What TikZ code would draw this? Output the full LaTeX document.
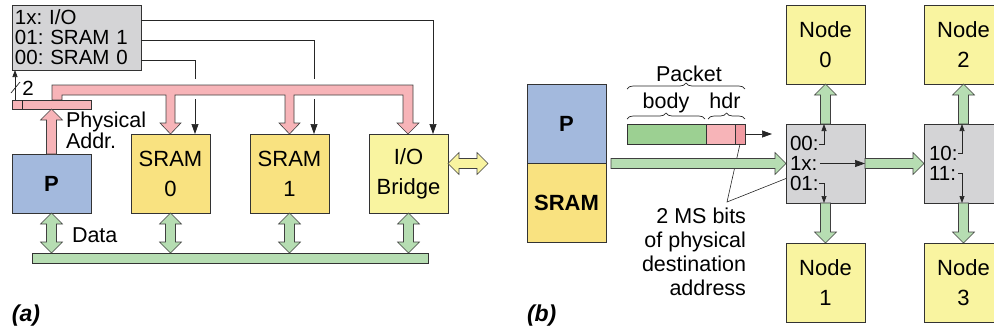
\documentclass[tikz,border=0pt]{standalone}
\usepackage{fontspec}
\setmainfont{Liberation Sans}
\usepackage{xcolor}
\usepackage{tikz}
\usetikzlibrary{arrows.meta,calc,decorations.pathreplacing}
\definecolor{cpublue}{RGB}{163,185,221}
\definecolor{memyellow}{RGB}{249,226,128}
\definecolor{devyellow}{RGB}{249,244,160}
\definecolor{routegray}{RGB}{212,212,214}
\definecolor{addrpink}{RGB}{247,180,184}
\definecolor{hdrpink}{RGB}{241,155,162}
\definecolor{datagreen}{RGB}{182,221,178}
\definecolor{bodygreen}{RGB}{156,208,146}
\newcommand{\mainsize}{\fontsize{22}{30}\selectfont}
\newcommand{\smallsize}{\fontsize{20.5}{20}\selectfont}
\newcommand{\notesize}{\fontsize{21.5}{24}\selectfont}
\newcommand{\fatarr}[3]{%
  \path (#2) coordinate (fa-s) (#3) coordinate (fa-e);
  \path ($(fa-e)!11pt!(fa-s)$) coordinate (fa-h);
  \draw[#1] ($(fa-s)!5pt!90:(fa-e)$) -- ($(fa-h)!5pt!90:(fa-e)$) -- ($(fa-h)!11pt!90:(fa-e)$) -- (fa-e)
    -- ($(fa-h)!11pt!-90:(fa-e)$) -- ($(fa-h)!5pt!-90:(fa-e)$) -- ($(fa-s)!5pt!-90:(fa-e)$) -- cycle;}
\newcommand{\fatbiarr}[3]{%
  \path (#2) coordinate (fa-s) (#3) coordinate (fa-e);
  \path ($(fa-e)!11pt!(fa-s)$) coordinate (fa-h) ($(fa-s)!11pt!(fa-e)$) coordinate (fa-g);
  \draw[#1] ($(fa-g)!5pt!90:(fa-e)$) -- ($(fa-h)!5pt!90:(fa-e)$) -- ($(fa-h)!11pt!90:(fa-e)$) -- (fa-e)
    -- ($(fa-h)!11pt!-90:(fa-e)$) -- ($(fa-h)!5pt!-90:(fa-e)$) -- ($(fa-g)!5pt!-90:(fa-e)$)
    -- ($(fa-g)!11pt!-90:(fa-e)$) -- (fa-s) -- ($(fa-g)!11pt!90:(fa-e)$) -- cycle;}

\begin{document}
\frenchspacing
\begin{tikzpicture}[>={Triangle[length=10pt,width=7pt]}, x=1pt, y=-1pt,
    box/.style={draw=black!80, line width=0.8pt, anchor=north west, minimum width=79pt, minimum height=79pt, inner sep=0pt, outer sep=0pt, align=center, font=\mainsize},
    cpu/.style={box, fill=cpublue},
    mem/.style={box, fill=memyellow},
    dev/.style={box, fill=devyellow},
    router/.style={box, fill=routegray},
    lbl/.style={inner sep=0pt, outer sep=0pt, font=\notesize},
    wire/.style={draw=black!85, line width=0.7pt},
    smalltip/.style={-{Triangle[length=7pt,width=5pt]}},
    pinkfat/.style={draw=black!75, line width=0.6pt, fill=addrpink},
    greenfat/.style={draw=black!75, line width=0.6pt, fill=datagreen},
    yellowfat/.style={draw=black!75, line width=0.6pt, fill=devyellow},
    brc/.style={draw=black!85, line width=0.7pt, decorate, decoration={brace, amplitude=6pt}}]
    \useasboundingbox (0,0) rectangle (994,333);
    \clip (0,0) rectangle (994,333);

    \node[box, fill=routegray, minimum width=129pt, minimum height=65pt, text width=123pt, align=left, font=\smallsize] (dec) at (12,5)
        {1x: I/O\\01: SRAM 1\\00: SRAM 0};
    \node[cpu, minimum height=59pt] (pa) at (12,154) {\textbf{P}};
    \node[mem] (s0) at (131,134) {SRAM\\0};
    \node[mem] (s1) at (250,134) {SRAM\\1};
    \node[dev] (io) at (369,134) {I/O\\Bridge};
    \node[box, fill=datagreen, minimum width=396pt, minimum height=10pt] (bus) at (32,253) {};

    \draw[pinkfat] (52,100) -- (52,85) -- (413,85) -- (413,123) -- (419,123) -- (408,134) -- (397,123) -- (403,123) -- (403,95)
        -- (294,95) -- (294,123) -- (300,123) -- (289.5,134) -- (279,123) -- (285,123) -- (285,95)
        -- (175,95) -- (175,123) -- (181,123) -- (170.5,134) -- (160,123) -- (166,123) -- (166,95) -- (62,95) -- (62,100) -- cycle;
    \node[box, fill=addrpink, minimum width=79pt, minimum height=9pt] (reg) at (12,100) {};
    \draw[wire, line width=0.8pt] ($(reg.north west)+(10,0)$) -- ($(reg.south west)+(10,0)$);
    \fatarr{pinkfat}{pa.north}{reg.south}

    \draw[wire,->] ($(dec.north east)+(0,15)$) -| ($(io.north east)+(-15,0)$);
    \draw[wire] ($(dec.north east)+(0,35)$) -| ($(s1.north east)+(-15,-55)$);
    \draw[wire,->] ($(s1.north east)+(-15,-35)$) -- ($(s1.north east)+(-15,0)$);
    \draw[wire] ($(dec.north east)+(0,55)$) -| ($(s0.north east)+(-15,-55)$);
    \draw[wire,->] ($(s0.north east)+(-15,-35)$) -- ($(s0.north east)+(-15,0)$);
    \draw[wire,smalltip] ($(reg.north west)+(3,0)$) -- ($(dec.south west)+(3,0)$);
    \draw[wire] ($(reg.north west)+(-1,-7)$) -- ($(reg.north west)+(8,-18)$);
    \node[lbl, font=\smallsize] (nbits) at ($(reg.north west)+(16,-12)$) {2};
    \node[lbl, anchor=west, align=left, font={\fontsize{21.5}{19}\selectfont}] (paddr) at (66,130) {Physical\\Addr.};

    \foreach \n in {pa,s0,s1,io} {\fatbiarr{greenfat}{\n.south}{\n.south |- bus.north}}
    \fatbiarr{yellowfat}{$(io.east)+(0,-10)$}{$(io.east)+(40,-10)$}
    \node[lbl, anchor=west] (datalbl) at (72,235) {Data};
    \node[lbl, anchor=west, font={\fontsize{23}{24}\selectfont\bfseries\itshape}] (taga) at (12,316) {(a)};

    \node[cpu] (pb) at (527,84) {\textbf{P}};
    \node[mem] (sr) at (527,163) {\textbf{SRAM}};
    \node[router] (r1) at (786,124) {};
    \node[router] (r2) at (924,124) {};
    \node[dev] (n0) at (786,5) {Node\\0};
    \node[dev] (n1) at (786,243) {Node\\1};
    \node[dev] (n2) at (924,5) {Node\\2};
    \node[dev] (n3) at (924,243) {Node\\3};

    \node[box, fill=bodygreen, minimum width=79pt, minimum height=20pt] (body) at (627,124) {};
    \node[box, fill=addrpink, minimum width=29pt, minimum height=20pt] (hdr) at (body.north east) {};
    \node[box, fill=hdrpink, minimum width=10pt, minimum height=20pt] (msb) at (hdr.north east) {};
    \coordinate (pktout) at ($(msb.east)+(27,0)$);
    \draw[wire,->] (msb.east) -- (pktout);
    \draw[brc] ($(body.north west)+(0,-35)$) -- ($(msb.north east)+(0,-35)$);
    \draw[brc] ($(body.north west)+(0,-5)$) -- ($(body.north east)+(-1,-5)$);
    \draw[brc] ($(hdr.north west)+(2,-5)$) -- ($(msb.north east)+(0,-5)$);
    \node[lbl, anchor=base] (pktlbl) at (689,81) {Packet};
    \node[lbl, anchor=base] (bodylbl) at (666,108) {body};
    \node[lbl, anchor=base] (hdrlbl) at (725,108) {hdr};

    \node[lbl, anchor=east, align=right] (msnote) at (746,252) {2 MS bits\\of physical\\destination\\address};
    \coordinate (msbend) at (727,202);
    \draw[wire, line width=0.6pt] (msb.south) -- (msbend) -- ($(r1.west)+(0,15)$);

    \fatarr{greenfat}{$(r1.west -| pb.east)+(5,0)$}{r1.west}
    \fatarr{greenfat}{r1.north}{n0.south}
    \fatarr{greenfat}{r1.south}{n1.north}
    \fatarr{greenfat}{r1.east}{r2.west}
    \fatarr{greenfat}{r2.north}{n2.south}
    \fatarr{greenfat}{r2.south}{n3.north}

    \node[lbl, anchor=west, align=left, font=\smallsize] (r1tab) at ($(r1.west)+(4,0)$) {00:\\1x:\\01:};
    \node[lbl, anchor=west, align=left, font=\smallsize] (r2tab) at ($(r2.west)+(5,0)$) {10:\\11:};
    \draw[wire,smalltip] ($(r1.north west)+(33,20)$) -| ($(r1.north west)+(38,0)$);
    \draw[wire,->] ($(r1.west)+(34,0)$) -- (r1.east);
    \draw[wire,smalltip] ($(r1.south west)+(33,-20)$) -| ($(r1.south west)+(38,0)$);
    \draw[wire,smalltip] ($(r2.north west)+(34,29)$) -| ($(r2.north west)+(38,0)$);
    \draw[wire,smalltip] ($(r2.south west)+(34,-30)$) -| ($(r2.south west)+(38,0)$);
    \node[lbl, anchor=west, font={\fontsize{23}{24}\selectfont\bfseries\itshape}] (tagb) at (527,316) {(b)};
\end{tikzpicture}
\end{document}
